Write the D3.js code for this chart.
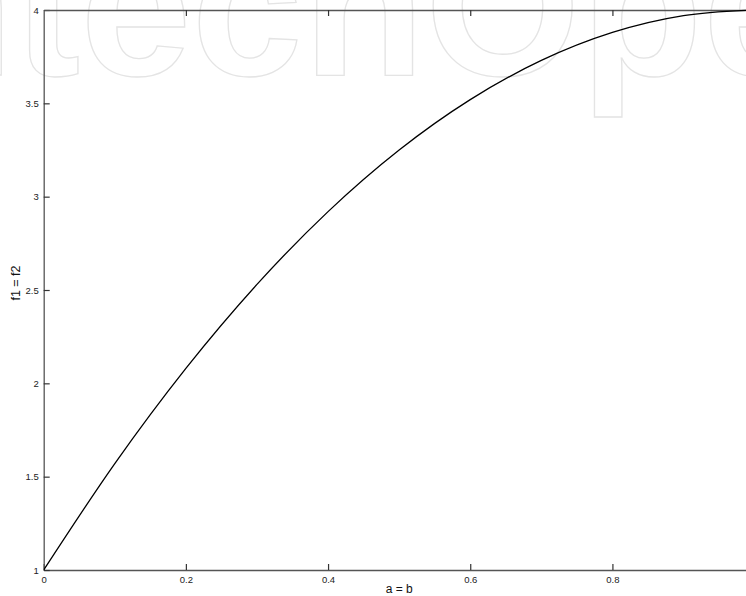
<!DOCTYPE html>
<html>
<head>
<meta charset="utf-8">
<script src="https://cdn.jsdelivr.net/npm/d3@7"></script>
<style>
  html, body { margin: 0; padding: 0; background: #fff; }
  svg { display: block; font-family: "Liberation Sans", Arial, Helvetica, sans-serif; }
</style>
</head>
<body>
<div id="chart"></div>
<script>
// values
var ab = [0, 0.1, 0.2, 0.3, 0.4, 0.5, 0.6, 0.7, 0.8, 0.9, 1.0];
var f = [1, 1.57, 2.08, 2.53, 2.92, 3.25, 3.52, 3.73, 3.88, 3.97, 4.0];
var xTicks = [0, 0.2, 0.4, 0.6, 0.8];
var yTicks = [1, 1.5, 2, 2.5, 3, 3.5, 4];

var width = 746, height = 596;

var svg = d3.select("#chart").append("svg")
  .attr("width", width)
  .attr("height", height);

// faint publisher watermark behind the plot
svg.append("text")
  .attr("x", -164)
  .attr("y", 75)
  .attr("font-size", 200)
  .attr("font-weight", "bold")
  .attr("fill", "none")
  .attr("stroke", "#e4e4e4")
  .attr("stroke-width", 1.3)
  .text("IntechOpen");

// x runs past the window edge, the right part is cut off
var x = d3.scaleLinear().domain([0, 1]).range([43.7, 754.6]);
var y = d3.scaleLinear().domain([1, 4]).range([570, 10]);

var axisColor = "#555";

var gx = svg.append("g")
  .attr("transform", "translate(0," + y(1) + ")")
  .call(d3.axisBottom(x).tickValues(xTicks).tickSizeInner(-6).tickSizeOuter(0).tickPadding(6)
    .tickFormat(d3.format("")));

var gy = svg.append("g")
  .attr("transform", "translate(" + x(0) + ",0)")
  .call(d3.axisLeft(y).tickValues(yTicks).tickSizeInner(-6).tickSizeOuter(0).tickPadding(5)
    .tickFormat(d3.format("")));

var gt = svg.append("g")
  .attr("transform", "translate(0," + y(4) + ")")
  .call(d3.axisTop(x).tickValues(xTicks.slice(1)).tickSizeInner(-6).tickSizeOuter(0)
    .tickFormat(""));

[gx, gy, gt].forEach(function (g) {
  g.select(".domain").attr("stroke", axisColor).attr("stroke-width", 1.3);
  g.selectAll(".tick line").attr("stroke", "#333").attr("stroke-width", 1.2);
  g.selectAll(".tick text").attr("font-size", 9.5).attr("fill", "#222")
    .attr("font-family", "Liberation Sans, Arial, sans-serif");
});

// keep the curve inside the plot
svg.append("clipPath").attr("id", "clip")
  .append("rect").attr("x", x(0)).attr("y", y(4) - 1)
  .attr("width", x(1) - x(0)).attr("height", y(1) - y(4) + 2);

var line = d3.line()
  .x(function (d, i) { return x(ab[i]); })
  .y(function (d) { return y(d); })
  .curve(d3.curveMonotoneX);

svg.append("path")
  .datum(f)
  .attr("clip-path", "url(#clip)")
  .attr("fill", "none")
  .attr("stroke", "#000")
  .attr("stroke-width", 1.3)
  .attr("d", line);

// axis titles
svg.append("text")
  .attr("x", (x(0) + x(1)) / 2)
  .attr("y", 593)
  .attr("text-anchor", "middle")
  .attr("font-size", 12)
  .attr("fill", "#111")
  .text("a = b");

svg.append("text")
  .attr("transform", "translate(20,283) rotate(-90)")
  .attr("text-anchor", "middle")
  .attr("font-size", 12.5)
  .attr("fill", "#111")
  .text("f1 = f2");
</script>
</body>
</html>
